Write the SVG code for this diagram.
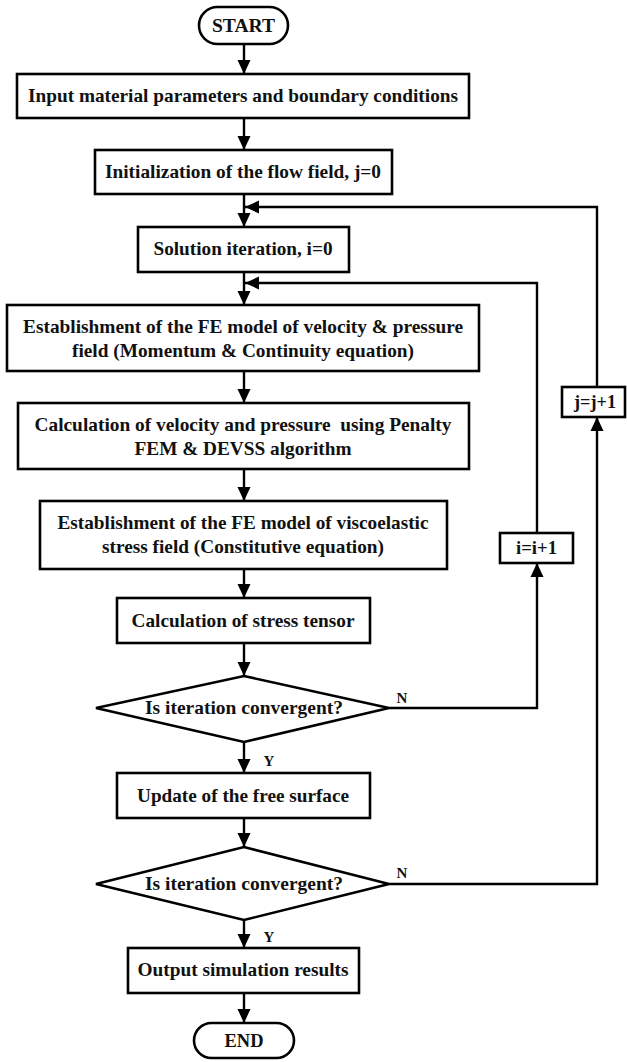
<svg xmlns="http://www.w3.org/2000/svg" width="627" height="1062" viewBox="0 0 627 1062">
<style>
.box{fill:#fff;stroke:#000;stroke-width:2.6}
.t{font-family:"Liberation Serif","Times New Roman",serif;font-weight:bold;font-size:19px;text-anchor:middle;fill:#111}
.s{font-size:15px}
.c{fill:none;stroke:#000;stroke-width:2.4}
</style>
<defs>
<marker id="ah" markerUnits="userSpaceOnUse" markerWidth="14" markerHeight="14" viewBox="0 0 14 14" refX="14" refY="7" orient="auto">
<path d="M0,0.5 L14,7 L0,13.5 Z" fill="#000"/>
</marker>
</defs>
<rect width="627" height="1062" fill="#fff"/>
<g id="connectors">
<line class="c" x1="244" y1="44" x2="244" y2="74" marker-end="url(#ah)"/>
<line class="c" x1="244" y1="118" x2="244" y2="150" marker-end="url(#ah)"/>
<line class="c" x1="244" y1="194" x2="244" y2="227" marker-end="url(#ah)"/>
<line class="c" x1="244" y1="272" x2="244" y2="305" marker-end="url(#ah)"/>
<line class="c" x1="244" y1="371" x2="244" y2="403" marker-end="url(#ah)"/>
<line class="c" x1="244" y1="469" x2="244" y2="501" marker-end="url(#ah)"/>
<line class="c" x1="244" y1="569" x2="244" y2="598" marker-end="url(#ah)"/>
<line class="c" x1="244" y1="643" x2="244" y2="676" marker-end="url(#ah)"/>
<line class="c" x1="244" y1="742" x2="244" y2="773" marker-end="url(#ah)"/>
<line class="c" x1="244" y1="818" x2="244" y2="847" marker-end="url(#ah)"/>
<line class="c" x1="244" y1="920" x2="244" y2="948" marker-end="url(#ah)"/>
<line class="c" x1="244" y1="993" x2="244" y2="1023" marker-end="url(#ah)"/>
<polyline class="c" points="389,708 537,708 537,563" marker-end="url(#ah)"/>
<polyline class="c" points="537,533 537,283 245,283" marker-end="url(#ah)"/>
<polyline class="c" points="389,884 597,884 597,417" marker-end="url(#ah)"/>
<polyline class="c" points="597,387 597,207 245,207" marker-end="url(#ah)"/>
<text class="t s" x="402" y="703">N</text>
<text class="t s" x="269" y="766">Y</text>
<text class="t s" x="402" y="878">N</text>
<text class="t s" x="269" y="942">Y</text>
</g>
<g id="start">
<rect class="box" x="199" y="7" width="89" height="37" rx="18.5"/>
<text class="t" x="243.5" y="32" font-size="20" textLength="63" lengthAdjust="spacingAndGlyphs">START</text>
</g>
<g id="input">
<rect class="box" x="17" y="74" width="452" height="44"/>
<text class="t" x="243" y="102" textLength="430" lengthAdjust="spacingAndGlyphs">Input material parameters and boundary conditions</text>
</g>
<g id="init">
<rect class="box" x="95" y="150" width="297" height="44"/>
<text class="t" x="243" y="178" textLength="276" lengthAdjust="spacingAndGlyphs">Initialization of the flow field, j=0</text>
</g>
<g id="solution">
<rect class="box" x="138" y="227" width="211" height="45"/>
<text class="t" x="243" y="255" textLength="179" lengthAdjust="spacingAndGlyphs">Solution iteration, i=0</text>
</g>
<g id="fe-velocity">
<rect class="box" x="7" y="305" width="472" height="66"/>
<text class="t" x="243" y="333" textLength="440" lengthAdjust="spacingAndGlyphs">Establishment of the FE model of velocity &amp; pressure</text>
<text class="t" x="243" y="357" textLength="342" lengthAdjust="spacingAndGlyphs">field (Momentum &amp; Continuity equation)</text>
</g>
<g id="calc-velocity">
<rect class="box" x="18" y="403" width="451" height="66"/>
<text class="t" x="243" y="431" textLength="417" lengthAdjust="spacingAndGlyphs" xml:space="preserve">Calculation of velocity and pressure  using Penalty</text>
<text class="t" x="243" y="455" textLength="217" lengthAdjust="spacingAndGlyphs">FEM &amp; DEVSS algorithm</text>
</g>
<g id="fe-stress">
<rect class="box" x="40" y="501" width="407" height="68"/>
<text class="t" x="243" y="529" textLength="371" lengthAdjust="spacingAndGlyphs">Establishment of the FE model of viscoelastic</text>
<text class="t" x="243" y="553" textLength="282" lengthAdjust="spacingAndGlyphs">stress field (Constitutive equation)</text>
</g>
<g id="calc-stress">
<rect class="box" x="117" y="598" width="253" height="45"/>
<text class="t" x="243" y="627" textLength="223" lengthAdjust="spacingAndGlyphs">Calculation of stress tensor</text>
</g>
<g id="decision-i">
<polygon class="box" points="244,676 389,708 244,742 96,708"/>
<text class="t" x="244" y="714" textLength="198" lengthAdjust="spacingAndGlyphs">Is iteration convergent?</text>
</g>
<g id="update">
<rect class="box" x="117" y="773" width="253" height="45"/>
<text class="t" x="243" y="802" textLength="212" lengthAdjust="spacingAndGlyphs">Update of the free surface</text>
</g>
<g id="decision-j">
<polygon class="box" points="244,847 389,884 244,920 96,884"/>
<text class="t" x="244" y="890" textLength="198" lengthAdjust="spacingAndGlyphs">Is iteration convergent?</text>
</g>
<g id="output">
<rect class="box" x="128" y="948" width="231" height="45"/>
<text class="t" x="243" y="976" textLength="211" lengthAdjust="spacingAndGlyphs">Output simulation results</text>
</g>
<g id="end">
<rect class="box" x="194" y="1023" width="100" height="35" rx="17.5"/>
<text class="t" x="244" y="1047" font-size="20" textLength="39" lengthAdjust="spacingAndGlyphs">END</text>
</g>
<g id="i-inc">
<rect class="box" x="500" y="533" width="73" height="30"/>
<text class="t" x="536.5" y="554" textLength="41" lengthAdjust="spacingAndGlyphs">i=i+1</text>
</g>
<g id="j-inc">
<rect class="box" x="562" y="387" width="63" height="30"/>
<text class="t" x="595" y="408" textLength="42" lengthAdjust="spacingAndGlyphs">j=j+1</text>
</g>
</svg>
